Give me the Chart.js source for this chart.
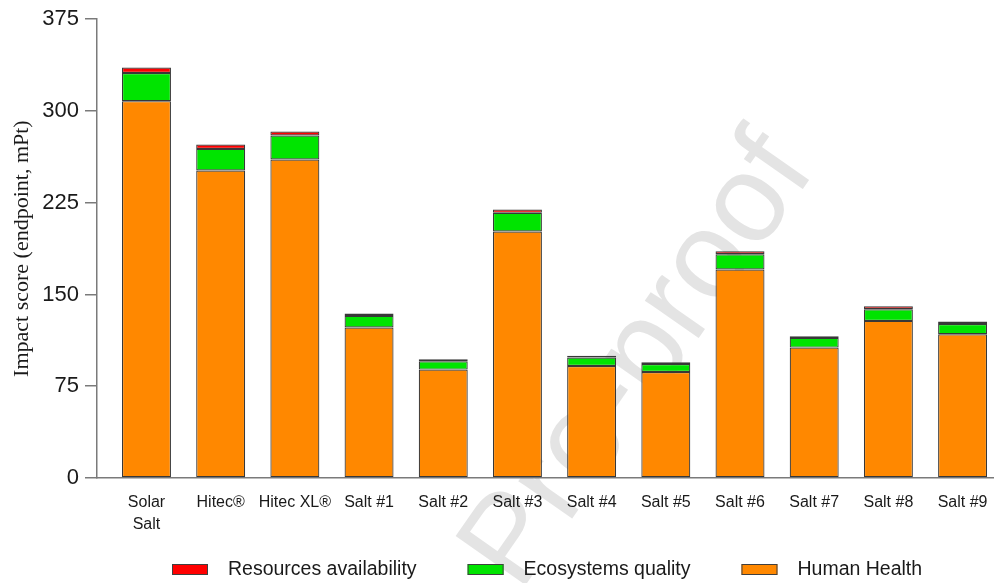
<!DOCTYPE html>
<html>
<head>
<meta charset="utf-8">
<title>Impact score by salt</title>
<script src="https://cdn.jsdelivr.net/npm/chart.js@4.4.1/dist/chart.umd.min.js"></script>
<style>
  html, body { margin: 0; padding: 0; background: #fff; }
</style>
</head>
<body>
<canvas id="impactChart" width="1003" height="583"></canvas>
<script>
// Endpoint impact scores (mPt), stacked per salt
const salts = [['Solar', 'Salt'], 'Hitec®', 'Hitec XL®', 'Salt #1', 'Salt #2', 'Salt #3',
  'Salt #4', 'Salt #5', 'Salt #6', 'Salt #7', 'Salt #8', 'Salt #9'];
const humanHealth = [308, 251.3, 260.3, 123, 88.6, 201.5, 91.6, 86.7, 170.4, 106.6, 128.4, 117.5];
const ecosystemsQuality = [23, 17.7, 19.6, 9.5, 6.8, 15.2, 6.8, 6.5, 12.5, 7.9, 9.5, 8.4];
const resourcesAvailability = [4.5, 3.6, 3.3, 1.9, 1.6, 2.7, 1.6, 1.4, 2.4, 1.3, 2.5, 2.0];
const yTicks = [0, 75, 150, 225, 300, 375];

const sansFont = '"Liberation Sans", Arial, sans-serif';

// bars sit on integer x positions, labels come from the salts list
const toPoints = values => values.map((v, i) => ({ x: i, y: v }));

// faint diagonal stamp behind everything
const watermark = {
  id: 'watermark',
  beforeDraw(chart) {
    const ctx = chart.ctx;
    ctx.save();
    ctx.translate(640, 362);
    ctx.rotate(-55 * Math.PI / 180);
    ctx.font = '124px ' + sansFont;
    ctx.fillStyle = '#e4e4e4';
    ctx.textAlign = 'center';
    ctx.textBaseline = 'middle';
    ctx.fillText('Pre-proof', 0, 0);
    ctx.restore();
  }
};

// legend row under the axis, top series first
const bottomLegend = {
  id: 'bottomLegend',
  afterDraw(chart) {
    const ctx = chart.ctx;
    const y = 570;
    let x = 172;
    ctx.save();
    ctx.font = '19.5px ' + sansFont;
    ctx.textBaseline = 'middle';
    chart.data.datasets.slice().reverse().forEach(ds => {
      ctx.fillStyle = ds.backgroundColor;
      ctx.fillRect(x, y - 6, 36, 11);
      ctx.strokeStyle = '#404040';
      ctx.lineWidth = 1;
      ctx.strokeRect(x + 0.5, y - 5.5, 35, 10);
      ctx.fillStyle = '#1a1a1a';
      ctx.fillText(ds.label, x + 56, y);
      x += 56 + ctx.measureText(ds.label).width + 51;
    });
    ctx.restore();
  }
};

const barStyle = {
  borderColor: '#383838',
  borderWidth: 1.2,
  borderSkipped: false,
  barPercentage: 0.66,
  categoryPercentage: 1
};

const ctx = document.getElementById('impactChart').getContext('2d');
const impactChart = new Chart(ctx, {
  type: 'bar',
  data: {
    datasets: [
      { label: 'Human Health', data: toPoints(humanHealth), backgroundColor: '#ff8800', ...barStyle },
      { label: 'Ecosystems quality', data: toPoints(ecosystemsQuality), backgroundColor: '#00e400', ...barStyle },
      { label: 'Resources availability', data: toPoints(resourcesAvailability), backgroundColor: '#ff0000', ...barStyle }
    ]
  },
  plugins: [watermark, bottomLegend],
  options: {
    responsive: false,
    animation: false,
    layout: { padding: { left: 0, right: 10, top: 19, bottom: 0 } },
    plugins: {
      legend: { display: false },
      tooltip: { enabled: false }
    },
    scales: {
      x: {
        type: 'linear',
        bounds: 'data',
        offset: false,
        stacked: true,
        min: -0.667,
        max: 11.41,
        afterFit: scale => { scale.height = 105; },
        // one tick per salt
        afterBuildTicks: scale => { scale.ticks = salts.map((s, i) => ({ value: i })); },
        grid: { display: false, drawTicks: false, offset: false },
        border: { display: true, color: '#7a7a7a', width: 1.5 },
        ticks: {
          autoSkip: false,
          maxRotation: 0,
          padding: 13,
          color: '#1a1a1a',
          font: { family: sansFont, size: 16, lineHeight: 1.4 },
          callback: value => salts[value]
        }
      },
      y: {
        stacked: true,
        min: 0,
        max: 375,
        afterFit: scale => { scale.width = 97; },
        afterBuildTicks: scale => { scale.ticks = yTicks.map(v => ({ value: v })); },
        grid: { drawOnChartArea: false, drawTicks: true, tickLength: 12, color: '#7a7a7a', lineWidth: 1.5 },
        border: { display: true, color: '#7a7a7a', width: 1.5 },
        ticks: {
          padding: 6,
          color: '#1a1a1a',
          font: { family: sansFont, size: 22 }
        },
        title: {
          display: true,
          text: 'Impact score (endpoint, mPt)',
          color: '#1a1a1a',
          padding: { top: 9, bottom: 0 },
          font: { family: '"Liberation Serif", "Times New Roman", serif', size: 22 }
        }
      }
    }
  }
});
</script>
</body>
</html>
